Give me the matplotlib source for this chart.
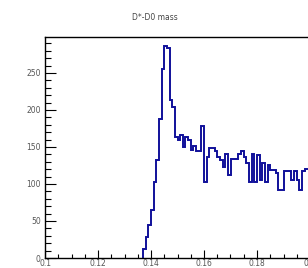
import numpy as np
import matplotlib
matplotlib.use("Agg")
import matplotlib.pyplot as plt
from matplotlib.ticker import MultipleLocator, FormatStrFormatter

# D*-D0 mass difference histogram, bins of 0.001 starting at 0.137
bin_start = 0.137
bin_width = 0.001
counts = [
    12, 28, 45, 65, 103, 132, 188, 255, 286, 284,
    213, 204, 164, 160, 166, 150, 164, 160, 146, 152,
    144, 144, 178, 103, 137, 149, 149, 144, 137, 132,
    123, 140, 112, 134, 134, 134, 140, 144, 137, 128,
    103, 140, 103, 139, 105, 128, 103, 125, 119, 119,
    115, 92, 92, 117, 117, 117, 105, 117, 105, 92,
    117, 120, 120,
]

edges = bin_start + bin_width * np.arange(len(counts) + 1)

fig = plt.figure(figsize=(3.08, 2.68), dpi=100)
ax = fig.add_axes([45 / 308, 10 / 268, 265 / 308, 221 / 268])

ax.stairs(counts, edges, color="#10109a", linewidth=1.4, baseline=0)

ax.set_xlim(0.1, 0.2)
ax.set_ylim(0, 298.6)

ax.xaxis.set_major_locator(MultipleLocator(0.02))
ax.xaxis.set_minor_locator(MultipleLocator(0.005))
ax.yaxis.set_major_locator(MultipleLocator(50))
ax.yaxis.set_minor_locator(MultipleLocator(10))
ax.xaxis.set_major_formatter(FormatStrFormatter("%g"))

ax.tick_params(which="both", direction="in", labelsize=5.5, labelcolor="#555555",
               width=0.8, top=False, right=False)
ax.tick_params(axis="y", which="major", length=8, pad=3)
ax.tick_params(axis="y", which="minor", length=4)
ax.tick_params(axis="x", which="major", length=6, pad=1)
ax.tick_params(axis="x", which="minor", length=3)

for s in ax.spines.values():
    s.set_linewidth(1.0)

fig.text(155 / 308, 1 - 17 / 268, "D*-D0 mass", ha="center", va="center",
         fontsize=5.5, color="#444444")

fig.savefig("out.png", dpi=100)
